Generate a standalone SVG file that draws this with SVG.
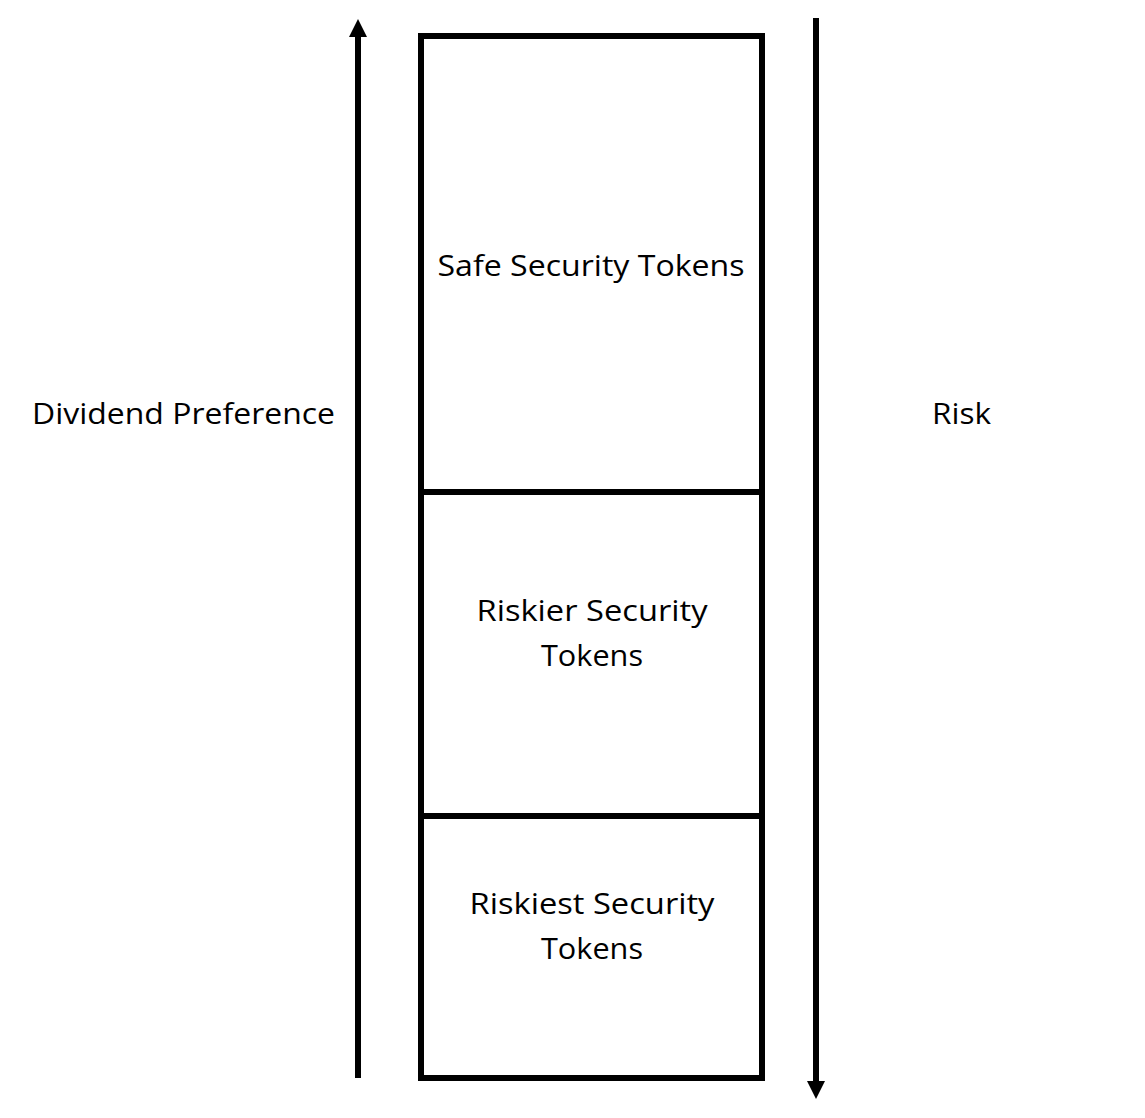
<svg xmlns="http://www.w3.org/2000/svg" width="1145" height="1118" viewBox="0 0 1145 1118">
<style>
.box{fill:none;stroke:#000;stroke-width:6}
.ln{stroke:#000;stroke-width:6;fill:none}
.t{font-family:"Open Sans","Liberation Sans",sans-serif;font-size:29px;fill:#000}
.m{text-anchor:middle}
</style>
<defs>
<marker id="ah" markerUnits="userSpaceOnUse" markerWidth="18" markerHeight="18" refX="0" refY="9" orient="auto" viewBox="0 0 18 18">
<path d="M0,0 L18,9 L0,18 Z" fill="#000"/>
</marker>
</defs>
<rect width="1145" height="1118" fill="#fff"/>
<g id="connectors">
<line class="ln" x1="358" y1="1078" x2="358" y2="37" marker-end="url(#ah)"/>
<line class="ln" x1="816" y1="18" x2="816" y2="1081" marker-end="url(#ah)"/>
</g>
<g id="safe">
<rect class="box" x="421" y="36" width="341" height="456"/>
<text class="t m" x="591" y="276" textLength="307" lengthAdjust="spacingAndGlyphs">Safe Security Tokens</text>
</g>
<g id="riskier">
<rect class="box" x="421" y="492" width="341" height="324"/>
<text class="t m" x="592" y="621" textLength="231" lengthAdjust="spacingAndGlyphs">Riskier Security</text>
<text class="t m" x="592" y="666" textLength="102" lengthAdjust="spacingAndGlyphs">Tokens</text>
</g>
<g id="riskiest">
<rect class="box" x="421" y="816" width="341" height="262"/>
<text class="t m" x="592" y="914" textLength="245" lengthAdjust="spacingAndGlyphs">Riskiest Security</text>
<text class="t m" x="592" y="959" textLength="102" lengthAdjust="spacingAndGlyphs">Tokens</text>
</g>
<g id="dividend">
<text class="t" x="32" y="424" textLength="303" lengthAdjust="spacingAndGlyphs">Dividend Preference</text>
</g>
<g id="risk">
<text class="t" x="932" y="424" textLength="59" lengthAdjust="spacingAndGlyphs">Risk</text>
</g>
</svg>
